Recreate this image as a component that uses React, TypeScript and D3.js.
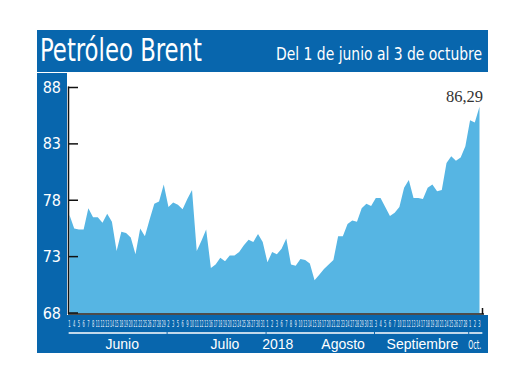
import React from 'react';
import * as d3 from 'd3';

// days traded per month (labels under the axis)
const junDays = [1, 4, 5, 6, 7, 8, 11, 12, 13, 14, 15, 18, 19, 20, 21, 22, 25, 26, 27, 28, 29];
const julDays = [2, 3, 5, 6, 9, 10, 11, 12, 13, 16, 17, 18, 19, 20, 23, 24, 25, 26, 27, 30, 31];
const augDays = [1, 2, 3, 6, 7, 8, 9, 10, 13, 14, 15, 16, 17, 20, 21, 22, 23, 24, 27, 28, 29, 30, 31];
const sepDays = [3, 4, 5, 6, 7, 10, 11, 12, 13, 14, 17, 18, 19, 20, 21, 24, 25, 26, 27, 28];
const octDays = [1, 2, 3];

const monthNames = ['Junio', 'Julio', 'Agosto', 'Septiembre', 'Oct.'];
const yearLabel = '2018';

// Brent, USD per barrel
const junValues = [76.7, 75.5, 75.4, 75.4, 77.3, 76.5, 76.5, 76.0, 76.8, 76.1, 73.5, 75.2, 75.1, 74.7, 73.2, 75.5, 74.8, 76.3, 77.7, 77.9, 79.4];
const julValues = [77.4, 77.8, 77.6, 77.2, 78.1, 78.9, 73.5, 74.4, 75.4, 72.0, 72.3, 72.9, 72.6, 73.1, 73.1, 73.4, 74.0, 74.5, 74.3, 75.0, 74.3];
const augValues = [72.5, 73.4, 73.2, 73.7, 74.6, 72.3, 72.2, 72.8, 72.7, 72.4, 70.9, 71.4, 71.9, 72.3, 72.7, 74.8, 74.8, 75.9, 76.2, 76.1, 77.3, 77.7, 77.5];
const sepValues = [78.2, 78.2, 77.4, 76.6, 76.9, 77.4, 79.1, 79.8, 78.2, 78.2, 78.1, 79.1, 79.4, 78.8, 78.9, 81.3, 81.9, 81.5, 81.8, 82.8];
const octValues = [85.1, 84.9, 86.29];

const yTicks = [68, 73, 78, 83, 88];
const lastLabel = '86,29';

const BLUE = '#0866ad';
const AREA = '#56b5e3';
const narrow = '"Liberation Sans Narrow", "DejaVu Sans Condensed", sans-serif';

export default function App() {
  const dayGroups = [junDays, julDays, augDays, sepDays, octDays];
  const valueGroups = [junValues, julValues, augValues, sepValues, octValues];

  // flatten into one series, remembering where each month starts
  let days: { day: number; month: number }[] = [];
  dayGroups.forEach((g, m) => g.forEach((d) => days.push({ day: d, month: m })));
  const values = ([] as number[]).concat(...valueGroups);

  const x = d3.scaleLinear().domain([0, values.length - 1]).range([69.5, 479.5]);
  const y = d3.scaleLinear().domain([68, 88]).range([313, 87.5]);
  const step = x(1) - x(0);

  const area = d3.area<number>()
    .x((d, i) => x(i))
    .y0(y(68))
    .y1((d) => y(d));

  // month ranges (index of first and last day)
  let monthRanges: [number, number][] = [];
  let start = 0;
  dayGroups.forEach((g) => {
    monthRanges.push([start, start + g.length - 1]);
    start += g.length;
  });

  // where the month names sit (fraction of the month range)
  const labelPos = [0.56, 0.6, 0.73, 0.52, 0.5];
  const yearPos = 44.2;

  return (
    <svg width={520} height={390} style={{ position: 'absolute', left: 0, top: 0 }}>
      <rect x={0} y={0} width={520} height={390} fill="#fff" />

      {/* title bar */}
      <rect x={37} y={30} width={451} height={42} fill={BLUE} />
      <text x={40} y={60.5} fill="#fff" fontFamily={narrow} fontSize={32}
        textLength={162} lengthAdjust="spacingAndGlyphs">Petróleo Brent</text>
      <text x={276} y={60} fill="#fff" fontFamily={narrow} fontSize={18.5}
        textLength={206} lengthAdjust="spacingAndGlyphs">Del 1 de junio al 3 de octubre</text>

      {/* frame bands */}
      <rect x={37} y={73} width={30} height={280} fill={BLUE} />
      <rect x={37} y={315} width={451} height={38} fill={BLUE} />

      {/* area */}
      <path d={area(values) || ''} fill={AREA} />

      {/* x axis line */}
      <line x1={68} x2={484} y1={314} y2={314} stroke="#4b4b4b" strokeWidth={2} />
      <line x1={482.5} x2={482.5} y1={308} y2={314} stroke="#111" strokeWidth={1.5} />

      {/* y axis */}
      <line x1={68.5} x2={68.5} y1={y(88) - 1} y2={314} stroke="#111" strokeWidth={1.5} />
      {yTicks.map((t) => (
        <g key={t}>
          <line x1={68} x2={78} y1={y(t)} y2={y(t)} stroke="#111" strokeWidth={1.5} />
          <text x={61} y={y(t) + 5.5} textAnchor="end" fill="#fff" fontFamily={narrow} fontSize={16}>{t}</text>
        </g>
      ))}

      {/* day labels */}
      {days.map((d, i) => (
        <text key={i} x={x(i)} y={326.5} textAnchor="middle" fill="#e8f1fa"
          fontFamily={narrow} fontSize={9}
          textLength={d.day > 9 ? 3.9 : 2.3} lengthAdjust="spacingAndGlyphs">{d.day}</text>
      ))}

      {/* month underlines and names */}
      {monthRanges.map(([a, b], m) => (
        <g key={m}>
          <line x1={x(a) - step / 2 + 1.5} x2={x(b) + step / 2 + 0.5} y1={333} y2={333}
            stroke="#fff" strokeWidth={1.5} />
          <text x={x(a + (b - a) * labelPos[m])} y={348.5} textAnchor="middle" fill="#fff"
            fontFamily={m === 4 ? narrow : '"Liberation Sans", Arial, sans-serif'}
            fontSize={m === 4 ? 12 : 14}
            textLength={m === 4 ? 13 : undefined}
            lengthAdjust="spacingAndGlyphs">{monthNames[m]}</text>
        </g>
      ))}
      <text x={x(yearPos)} y={348.5} textAnchor="middle" fill="#fff"
        fontFamily='"Liberation Sans", Arial, sans-serif' fontSize={14}>{yearLabel}</text>

      {/* last value */}
      <text x={483} y={102} textAnchor="end" fill="#333"
        fontFamily='"Liberation Serif", "DejaVu Serif", serif' fontSize={16.5}>{lastLabel}</text>
    </svg>
  );
}
